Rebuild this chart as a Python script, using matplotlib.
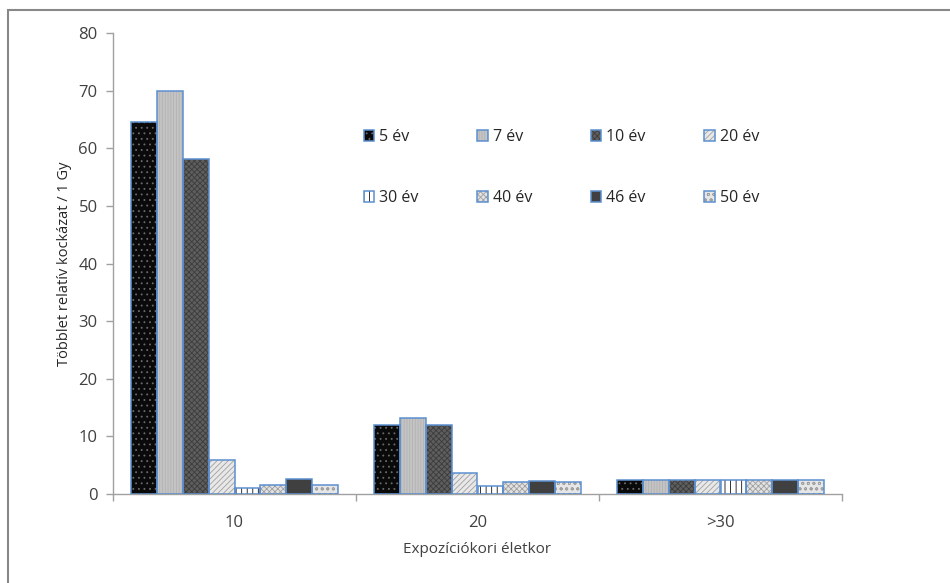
import matplotlib.pyplot as plt
from matplotlib.patches import Patch, Rectangle
import numpy as np

plt.rcParams['font.family'] = ['Open Sans', 'DejaVu Sans']
plt.rcParams['hatch.linewidth'] = 0.6

# data
categories = ['10', '20', '>30']
series = ['5 év', '7 év', '10 év', '20 év', '30 év', '40 év', '46 év', '50 év']
v_10 = [64.6, 70.0, 58.2, 5.9, 1.0, 1.6, 2.6, 1.6]
v_20 = [12.0, 13.2, 12.0, 3.7, 1.4, 2.0, 2.2, 2.0]
v_30 = [2.5, 2.5, 2.5, 2.5, 2.5, 2.5, 2.5, 2.5]

# fill, hatch, hatch colour per series
styles = [
    ('#0a0a0a', '...', '#6a6a6a'),
    ('#c4c4c4', '||||||', '#b2b2b2'),
    ('#5e5e5e', 'xxxxxx', '#3c3c3c'),
    ('#e8e8e8', '//////', '#a0a0a0'),
    ('#ffffff', '|||', '#111111'),
    ('#e2e2e2', 'xxxxxx', '#a0a0a0'),
    ('#404040', '', '#404040'),
    ('#e6e6e6', 'ooo', '#a0a0a0'),
]
edge_blue = '#5b8fd0'

fig = plt.figure(figsize=(9.5, 5.83), dpi=100)
ax = fig.add_axes([113 / 950, 1 - 494 / 583, (842 - 113) / 950, (494 - 33) / 583])

values = np.array([v_10, v_20, v_30])
x = np.arange(len(categories))
n = len(series)
group_w = 0.848
w = group_w / n

handles = []
for i, name in enumerate(series):
    fc, hatch, hc = styles[i]
    pos = x - group_w / 2 + w * (i + 0.5)
    ax.bar(pos, values[:, i], w, color=fc, linewidth=0, zorder=2)
    if hatch:
        ax.bar(pos, values[:, i], w, color='none', edgecolor=hc, hatch=hatch,
               linewidth=0, zorder=3)
    ax.bar(pos, values[:, i], w, color='none', edgecolor=edge_blue,
           linewidth=1.1, zorder=4)
    h_fill = Patch(facecolor=fc, linewidth=0)
    h_hatch = Patch(facecolor='none', edgecolor=hc, hatch=hatch, linewidth=0)
    h_edge = Patch(facecolor='none', edgecolor=edge_blue, linewidth=1.1)
    handles.append((h_fill, h_hatch, h_edge))

ax.set_xlim(-0.5, 2.5)
ax.set_ylim(0, 80)
ax.set_yticks(range(0, 81, 10))
ax.set_xticks(x)
ax.set_xticklabels(categories)
ax.set_xticks([-0.5, 0.5, 1.5, 2.5], minor=True)
ax.tick_params(axis='x', which='major', length=0, pad=15, labelsize=12, labelcolor='#404040')
ax.tick_params(axis='x', which='minor', length=5, color='#a0a0a0', width=1)
ax.tick_params(axis='y', length=5, color='#a0a0a0', width=1, pad=6,
               labelsize=12, labelcolor='#404040')

for s in ['top', 'right']:
    ax.spines[s].set_visible(False)
for s in ['left', 'bottom']:
    ax.spines[s].set_color('#a0a0a0')
    ax.spines[s].set_linewidth(1)

ax.set_ylabel('Többlet relatív kockázat / 1 Gy', fontsize=10.5, color='#262626', labelpad=5)
ax.set_xlabel('Expozíciókori életkor', fontsize=11, color='#404040', labelpad=8)

# legend: row 1 = 5,7,10,20 ; row 2 = 30,40,46,50
order = [0, 4, 1, 5, 2, 6, 3, 7]
leg = fig.legend([handles[k] for k in order], [series[k] for k in order],
                 ncol=4, loc='upper left',
                 bbox_to_anchor=(364 / 950, 1 - 135 / 583, 395 / 950, 0.01),
                 mode='expand', frameon=False, fontsize=11.5,
                 handlelength=0.65, handleheight=0.65, handletextpad=0.3,
                 labelspacing=2.8, borderpad=0, borderaxespad=0)
for t in leg.get_texts():
    t.set_color('#262626')

# outer border (top and left only visible)
fig.patches.append(Rectangle((8 / 950, -0.1), 1.2, 1 - 10 / 583 + 0.1,
                             transform=fig.transFigure, fill=False,
                             edgecolor='#888888', linewidth=1.5))

fig.savefig('out.png', dpi=100)
